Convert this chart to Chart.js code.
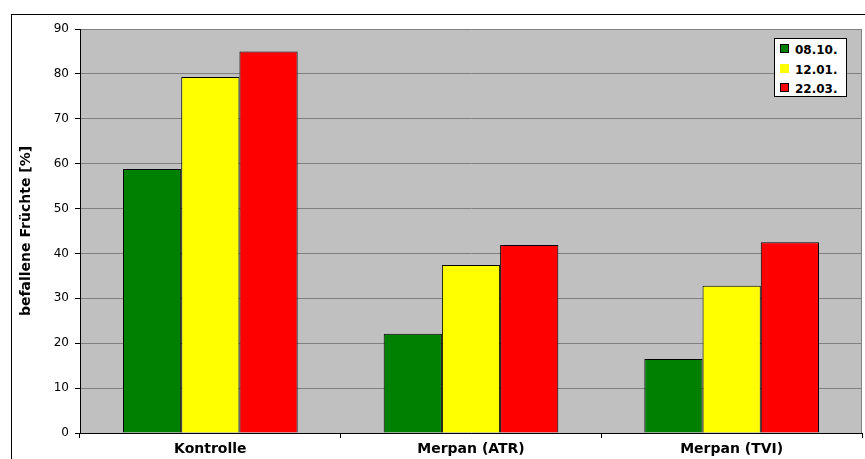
<!DOCTYPE html>
<html>
<head>
<meta charset="utf-8">
<script src="https://cdn.jsdelivr.net/npm/chart.js@4/dist/chart.umd.min.js"></script>
<style>
  body { margin: 0; background: #fff; overflow: hidden; }
  #frame { position: absolute; left: 11px; top: 14px; width: 900px; height: 500px; border: 1px solid #000; }
  #chart { position: absolute; left: 0; top: 0; }
  #legend { position: absolute; left: 774px; top: 38px; width: 71px; height: 57px; background: #fff; border: 1px solid #000;
            font: bold 12px "DejaVu Sans", sans-serif; color: #000; }
  #legend .item { position: absolute; left: 5px; height: 14px; line-height: 14px; white-space: nowrap; }
  #legend .sw { display: inline-block; width: 7px; height: 7px; border: 1px solid #000; margin-right: 6px; vertical-align: 1px; }
</style>
</head>
<body>
<div id="frame"></div>
<canvas id="chart" width="865" height="459"></canvas>
<div id="legend"></div>
<script>
// data
const categories = ['Kontrolle', 'Merpan (ATR)', 'Merpan (TVI)'];
const dates = ['08.10.', '12.01.', '22.03.'];
const values0810 = [58.8, 22.1, 16.5];
const values1201 = [79.3, 37.4, 32.8];
const values2203 = [85.0, 41.9, 42.5];
const yTicks = [0, 10, 20, 30, 40, 50, 60, 70, 80, 90];
const colors = ['#008000', '#ffff00', '#ff0000'];

const plotBg = {
  id: 'plotBg',
  beforeDraw(chart) {
    const { ctx, chartArea: a } = chart;
    ctx.save();
    ctx.fillStyle = '#c0c0c0';
    ctx.fillRect(a.left, a.top, a.right - a.left, a.bottom - a.top);
    ctx.strokeStyle = '#808080';
    ctx.lineWidth = 1;
    ctx.beginPath();
    ctx.moveTo(a.right - 0.5, a.top);
    ctx.lineTo(a.right - 0.5, a.bottom);
    ctx.stroke();
    ctx.restore();
  }
};

const chart = new Chart(document.getElementById('chart'), {
  type: 'bar',
  plugins: [plotBg],
  data: {
    labels: categories,
    datasets: [values0810, values1201, values2203].map((v, i) => ({
      label: dates[i],
      data: v,
      backgroundColor: colors[i],
      borderColor: '#000',
      borderWidth: 1,
      categoryPercentage: 0.67,
      barPercentage: 1.0
    }))
  },
  options: {
    responsive: false,
    animation: false,
    layout: { padding: { top: 29, right: 3, left: 0, bottom: 0 } },
    plugins: { legend: { display: false }, tooltip: { enabled: false } },
    scales: {
      x: {
        grid: { offset: true, drawOnChartArea: false, tickLength: 5, tickColor: '#000' },
        border: { color: '#000' },
        ticks: { color: '#000', padding: 3, font: { family: 'DejaVu Sans', size: 14, weight: 'bold' } },
        afterFit(s) { s.height = 26; }
      },
      y: {
        min: 0, max: 90,
        afterBuildTicks(s) { s.ticks = yTicks.map(v => ({ value: v })); },
        grid: { color: '#808080', tickColor: '#000', tickLength: 5 },
        border: { color: '#000' },
        ticks: { color: '#000', padding: 6, font: { family: 'DejaVu Sans', size: 12 } },
        title: {
          display: true, text: 'befallene Früchte [%]', color: '#000',
          font: { family: 'DejaVu Sans', size: 14, weight: 'bold' },
          padding: { top: 18, bottom: 0 }
        },
        afterFit(s) { s.width = 80; }
      }
    }
  }
});

// legend box inside the plot, built from the datasets
const legend = document.getElementById('legend');
chart.data.datasets.forEach((ds, i) => {
  const item = document.createElement('div');
  item.className = 'item';
  item.style.top = (4 + i * 19.5) + 'px';
  const sw = document.createElement('span');
  sw.className = 'sw';
  sw.style.background = ds.backgroundColor;
  if (i === 1) sw.style.borderColor = ds.backgroundColor;
  item.appendChild(sw);
  item.appendChild(document.createTextNode(ds.label));
  legend.appendChild(item);
});
</script>
</body>
</html>
